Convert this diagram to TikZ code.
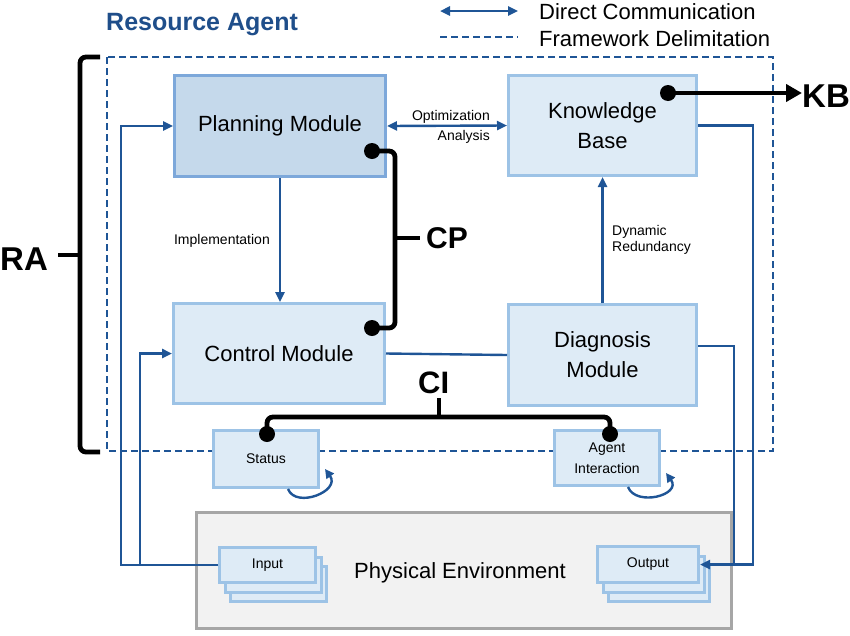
\documentclass[tikz,border=0pt]{standalone}
\usepackage{fontspec}
\setmainfont{Liberation Sans}
\usetikzlibrary{arrows.meta,calc}
\definecolor{dblue}{HTML}{1F5596}
\definecolor{tblue}{HTML}{1F4E8A}
\definecolor{boxfill}{HTML}{DEEBF6}
\definecolor{boxline}{HTML}{9DC3E6}
\definecolor{planfill}{HTML}{C5D9EB}
\definecolor{planline}{HTML}{7DA8DA}
\definecolor{envfill}{HTML}{F2F2F2}
\definecolor{envline}{HTML}{A6A6A6}
\begin{document}
\begin{tikzpicture}[x=1pt,y=-1pt,
 mod/.style={draw=boxline, fill=boxfill, line width=3pt, inner sep=0pt, align=center, font=\fontsize{22}{30}\selectfont},
 smallbox/.style={draw=boxline, fill=boxfill, line width=3pt, inner sep=0pt, align=center, font=\fontsize{14}{21}\selectfont},
 lbl/.style={inner sep=0pt, font=\fontsize{14}{16.5}\selectfont},
 legtxt/.style={inner sep=0pt, font=\fontsize{22}{24}\selectfont},
 conn/.style={draw=dblue, line width=2.4pt},
 tip/.tip={Triangle[length=10pt,width=9pt]},
 arr/.style={conn, -tip},
 frameline/.style={draw=dblue, line width=2.2pt, dash pattern=on 7pt off 4pt},
 bus/.style={draw=black, line width=4.8pt, rounded corners=6pt},
 dot/.style={circle, fill=black, minimum size=16pt, inner sep=0pt},
 big/.style={inner sep=0pt, font=\fontsize{32}{32}\selectfont\bfseries},
 loopar/.style={conn, -{Triangle[length=9pt,width=9pt]}}]
\useasboundingbox (0,0) rectangle (850,635);

% legend and title
\node[inner sep=0pt, anchor=base west, text=tblue, font=\fontsize{25}{25}\selectfont\bfseries] (title) at (106,30) {Resource Agent};
\coordinate (la1) at (440,11);
\coordinate (la2) at (518,11);
\draw[conn, tip-tip] (la1) -- (la2);
\coordinate (ld1) at (440,37);
\coordinate (ld2) at (518,37);
\draw[frameline] (ld1) -- (ld2);
\node[legtxt, anchor=base west] (lt1) at (539,19) {Direct Communication};
\node[legtxt, anchor=base west] (lt2) at (539,46) {Framework Delimitation};

% framework delimitation
\draw[frameline] (107,57) rectangle (773,451);

% modules
\node[mod, draw=planline, fill=planfill, minimum width=211pt, minimum height=101pt] (plan) at (280,126) {Planning Module};
\node[mod, minimum width=188pt, minimum height=100pt] (kb) at (602.5,125.5) {Knowledge\\Base};
\node[mod, minimum width=211pt, minimum height=100pt] (ctrl) at (279,353.5) {Control Module};
\node[mod, minimum width=188pt, minimum height=101pt] (diag) at (602.5,355) {Diagnosis\\Module};
\node[smallbox, minimum width=105pt, minimum height=57pt] (status) at (266,459) {Status};
\node[smallbox, minimum width=105pt, minimum height=55pt] (agent) at (607,458) {Agent\\Interaction};

% physical environment
\node[draw=envline, fill=envfill, line width=3pt, minimum width=535pt, minimum height=116pt, inner sep=0pt] (env) at (464,570.5) {};
\node[inner sep=0pt, font=\fontsize{22}{24}\selectfont] (envtxt) at (460,573) {Physical Environment};
\node[smallbox, minimum width=96pt, minimum height=35pt] (in3) at (278.5,584) {};
\node[smallbox, minimum width=96pt, minimum height=35pt] (in2) at (273,574.5) {};
\node[smallbox, minimum width=96pt, minimum height=35pt] (input) at (267.5,565) {Input};
\node[smallbox, minimum width=101pt, minimum height=36pt] (out3) at (659,583.5) {};
\node[smallbox, minimum width=101pt, minimum height=36pt] (out2) at (653.5,574) {};
\node[smallbox, minimum width=101pt, minimum height=36pt] (output) at (648,564.5) {Output};

% direct communication connectors
\draw[conn, tip-tip] (plan.east) -- (kb.west);
\node[lbl, anchor=east] (opt) at (490,117) {Optimization};
\node[lbl, anchor=east] (ana) at (490,137) {Analysis};
\draw[arr] (plan.south) -- (plan.south |- ctrl.north);
\node[lbl, anchor=east] (impl) at (270,241) {Implementation};
\draw[arr] (diag.north) -- (kb.south);
\node[lbl, anchor=west, align=left] (dyn) at (612,240) {Dynamic\\Redundancy};
\draw[conn] (ctrl.east) -- (diag.west);

\coordinate (l1) at (121,126);
\coordinate (l2) at (140,353.5);
\draw[arr] (input.west) -| (l1) -- (plan.west);
\draw[arr] (input.west) -| (l2) -- (ctrl.west);

\coordinate (r1) at (753,564.5);
\coordinate (r2) at (734,564.5);
\draw[conn] (kb.east) -| (r1) -- (r2);
\draw[arr] ([yshift=9pt]diag.east) -| (r2) -- (output.east);

% self loops
\draw[loopar] ([xshift=22pt]status.south) .. controls +(8,20) and +(16,22) .. ([xshift=5pt,yshift=-10pt]status.east);
\draw[loopar] ([xshift=21pt]agent.south) .. controls +(8,20) and +(16,22) .. ([xshift=5pt,yshift=-15pt]agent.east);

% RA brace
\coordinate (ra1) at (100,57);
\coordinate (ra2) at (80,57);
\coordinate (ra3) at (80,452);
\coordinate (ra4) at (100,452);
\coordinate (ram) at (80,255);
\coordinate (rat) at (58,255);
\draw[bus] (ra1) -- (ra2) -- (ra3) -- (ra4);
\draw[bus] (ram) -- (rat);
\node[big, anchor=base west, font=\fontsize{33}{33}\selectfont\bfseries] (ra) at (0,270) {RA};

% CP
\node[dot] (pd) at (372,151) {};
\node[dot] (cd) at (372,328) {};
\coordinate (cp1) at (395,151);
\coordinate (cp2) at (395,328);
\coordinate (cpm) at (395,238);
\coordinate (cpt) at (420,238);
\draw[bus] (pd.center) -- (cp1) -- (cp2) -- (cd.center);
\draw[bus] (cpm) -- (cpt);
\node[big, anchor=base west, font=\fontsize{30}{30}\selectfont\bfseries] (cp) at (426,248) {CP};

% CI
\node[dot] (sd) at (267,434) {};
\node[dot] (ad) at (610,434) {};
\coordinate (ci1) at (267,417);
\coordinate (ci2) at (610,417);
\coordinate (cim) at (439,417);
\coordinate (cit) at (439,398);
\draw[bus] (sd.center) -- (ci1) -- (ci2) -- (ad.center);
\draw[bus] (cim) -- (cit);
\node[big, anchor=base west, font=\fontsize{31}{31}\selectfont\bfseries] (ci) at (418,393) {CI};

% KB
\node[dot] (kd) at (668,93) {};
\coordinate (kbt) at (802,93);
\draw[line width=4.8pt, -{Triangle[length=16pt,width=17pt]}] (kd.center) -- (kbt);
\node[big, anchor=base west, font=\fontsize{33}{33}\selectfont\bfseries] (kbl) at (802,107) {KB};
\end{tikzpicture}
\end{document}
